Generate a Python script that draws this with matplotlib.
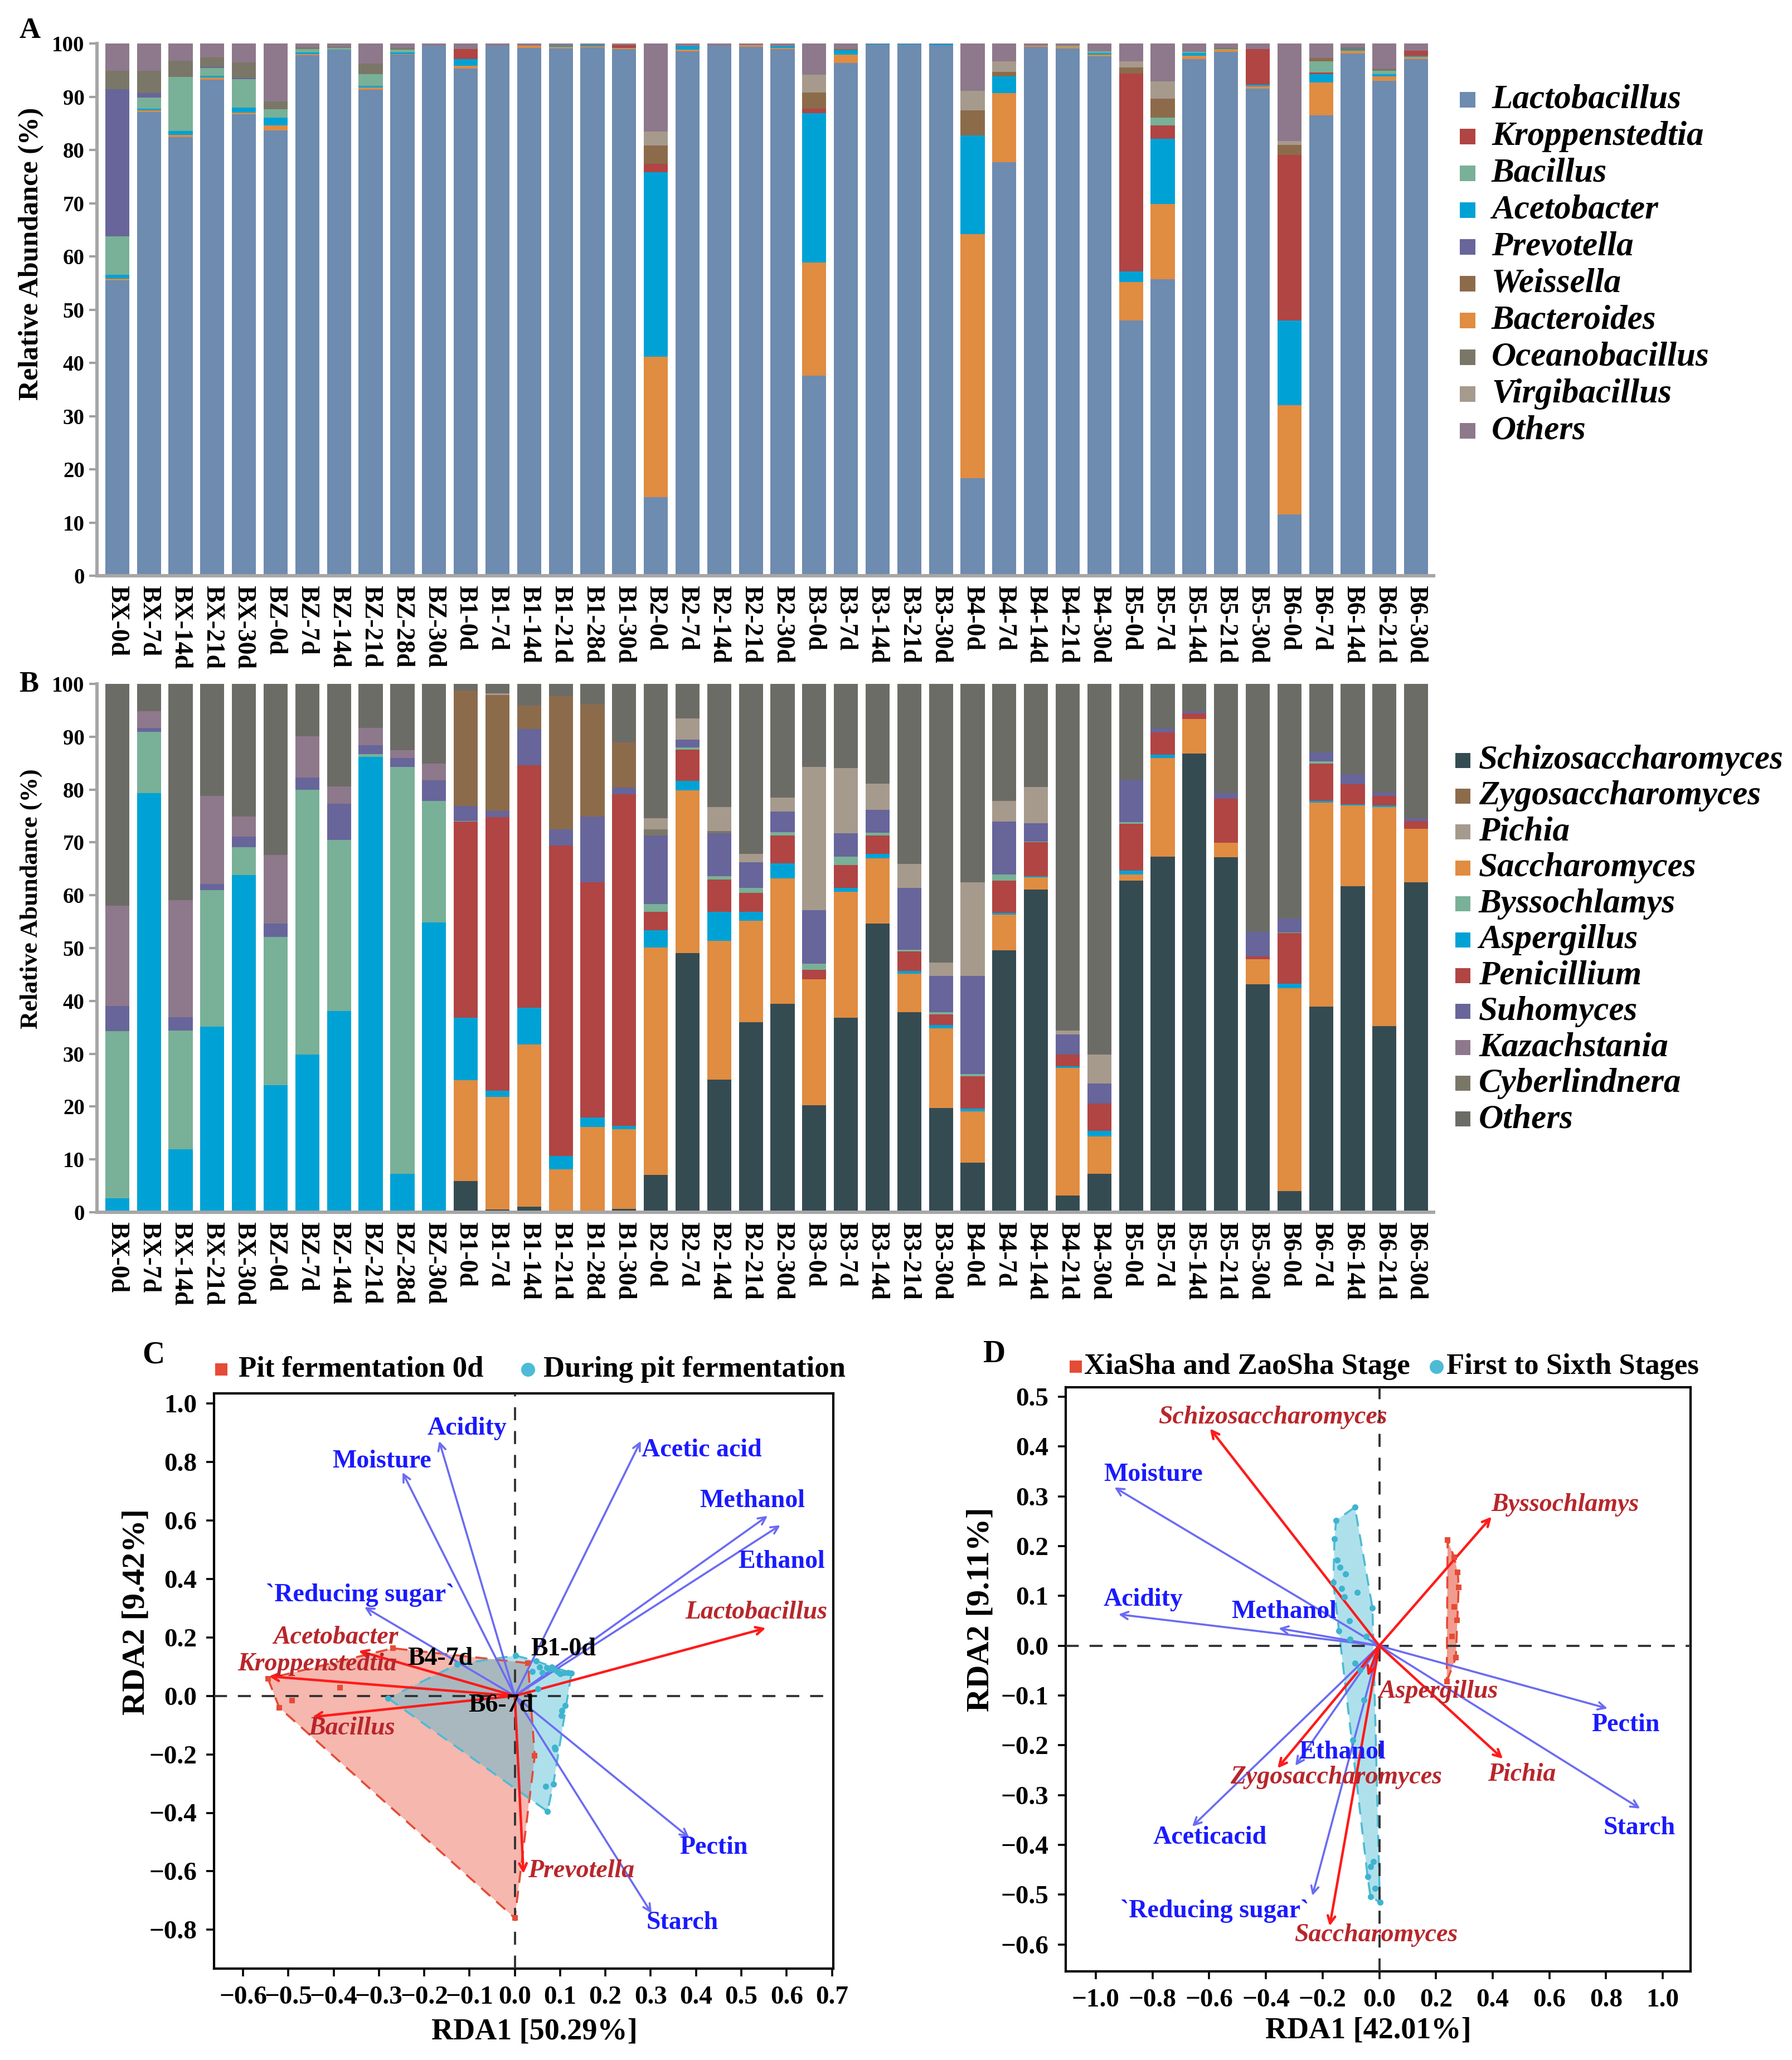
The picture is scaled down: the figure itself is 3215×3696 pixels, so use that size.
import matplotlib.lines
import matplotlib.patches
import matplotlib.pyplot as plt
import numpy as np

W, H = 3216, 3696
DPI = 200

samples = [
    "BX-0d", "BX-7d", "BX-14d", "BX-21d", "BX-30d",
    "BZ-0d", "BZ-7d", "BZ-14d", "BZ-21d", "BZ-28d", "BZ-30d",
    "B1-0d", "B1-7d", "B1-14d", "B1-21d", "B1-28d", "B1-30d",
    "B2-0d", "B2-7d", "B2-14d", "B2-21d", "B2-30d",
    "B3-0d", "B3-7d", "B3-14d", "B3-21d", "B3-30d",
    "B4-0d", "B4-7d", "B4-14d", "B4-21d", "B4-30d",
    "B5-0d", "B5-7d", "B5-14d", "B5-21d", "B5-30d",
    "B6-0d", "B6-7d", "B6-14d", "B6-21d", "B6-30d",
]

# ---- panel A: bacteria (%), one value per sample
lactobacillus = [55.5, 87.1, 82.4, 93.2, 86.7, 83.7, 97.8, 98.8, 91.3, 97.9, 99.6,
                 95.3, 99.6, 99.2, 99.1, 99.3, 99.0, 14.8, 98.5, 99.6, 99.4, 99.0,
                 37.6, 96.3, 99.8, 99.8, 99.7, 18.3, 77.7, 99.4, 99.1, 97.6,
                 48.0, 55.7, 97.1, 98.4, 91.5, 11.5, 86.5, 98.1, 93.0, 97.1]
bacteroides = [0.3, 0.3, 0.4, 0.4, 0.3, 0.9, 0.2, 0.0, 0.4, 0.1, 0.0,
               0.5, 0.0, 0.4, 0.3, 0.2, 0.2, 26.3, 0.4, 0.0, 0.3, 0.2,
               21.2, 1.6, 0.0, 0.0, 0.0, 45.9, 13.0, 0.2, 0.3, 0.3,
               7.2, 14.1, 0.6, 0.4, 0.4, 20.5, 6.2, 0.5, 0.8, 0.4]
acetobacter = [0.7, 0.4, 0.8, 0.3, 1.0, 1.5, 0.3, 0.1, 0.3, 0.3, 0.0,
               1.3, 0.0, 0.0, 0.2, 0.2, 0.0, 34.7, 0.6, 0.0, 0.0, 0.3,
               28.1, 0.8, 0.1, 0.1, 0.2, 18.5, 3.1, 0.0, 0.0, 0.3,
               2.0, 12.3, 0.5, 0.0, 0.4, 16.0, 1.5, 0.3, 0.4, 0.2]
kroppenstedtia = [0, 0, 0, 0, 0, 0, 0, 0, 0, 0, 0,
                  1.9, 0, 0, 0, 0, 0.5, 1.6, 0, 0, 0, 0,
                  0.8, 0, 0, 0, 0, 0, 0, 0, 0, 0,
                  37.1, 2.5, 0, 0, 6.7, 31.1, 0.4, 0, 0, 0.9]
bacillus = [7.3, 2.0, 10.1, 1.5, 5.3, 1.5, 0.7, 0.3, 2.2, 0.6, 0,
            0, 0, 0, 0, 0, 0, 0, 0, 0, 0, 0,
            0, 0, 0, 0, 0, 0, 0, 0, 0.2, 0.3,
            0, 1.5, 0.2, 0.2, 0, 0, 2.1, 0, 0.7, 0]
prevotella = [27.6, 0.9, 0, 0.2, 0.2, 0, 0, 0, 0, 0, 0,
              0, 0, 0, 0, 0, 0, 0, 0, 0, 0, 0,
              0, 0, 0, 0, 0, 0, 0, 0, 0, 0,
              0, 0, 0, 0, 0, 0, 0, 0, 0, 0]
weissella = [0, 0, 0, 0, 0, 0, 0, 0, 0, 0, 0,
             0, 0, 0, 0, 0, 0, 3.4, 0, 0, 0, 0,
             3.1, 0.3, 0, 0, 0, 4.7, 0.9, 0, 0, 0,
             1.2, 3.5, 0, 0, 0, 1.8, 0.6, 0, 0, 0]
oceanobacillus = [3.5, 4.2, 3.1, 1.8, 2.9, 1.5, 0.3, 0.2, 2.0, 0.3, 0,
                  0, 0, 0, 0, 0, 0, 0, 0, 0, 0, 0,
                  0, 0, 0, 0, 0, 0, 0, 0, 0, 0,
                  0, 0, 0, 0.2, 0, 0, 0, 0.4, 0.4, 0]
virgibacillus = [0, 0, 0, 0, 0, 0, 0, 0, 0, 0, 0,
                 0, 0, 0, 0, 0, 0, 2.7, 0, 0, 0, 0,
                 3.3, 0, 0, 0, 0, 3.7, 2.0, 0, 0, 0,
                 1.2, 3.3, 0, 0, 0, 0.8, 0, 0, 0, 0]
others_a = [5.1, 5.1, 3.2, 2.6, 3.6, 10.9, 0.7, 0.6, 3.8, 0.8, 0.4,
            1.0, 0.4, 0.4, 0.4, 0.3, 0.3, 16.5, 0.5, 0.4, 0.3, 0.5,
            5.9, 1.0, 0.1, 0.1, 0.1, 8.9, 3.3, 0.4, 0.4, 1.5,
            3.3, 7.1, 1.6, 0.8, 1.0, 18.3, 2.7, 0.7, 4.7, 1.4]

# ---- panel B: fungi (%)
schizosaccharomyces = [0, 0, 0, 0, 0, 0, 0, 0, 0, 0, 0,
                       5.9, 0.5, 1.1, 0.3, 0.3, 0.6, 7.1, 49.0, 25.1, 36.0, 39.5,
                       20.3, 36.8, 54.6, 37.9, 19.7, 9.4, 49.6, 61.1, 3.2, 7.3,
                       62.8, 67.3, 86.8, 67.2, 43.1, 4.0, 38.9, 61.75, 35.2, 62.4]
saccharomyces = [0, 0, 0, 0, 0, 0, 0, 0, 0, 0, 0,
                 19.1, 21.3, 30.6, 7.8, 15.8, 15.1, 43.0, 30.8, 26.3, 19.2, 23.7,
                 23.8, 23.9, 12.4, 7.3, 15.1, 9.7, 6.7, 2.3, 24.1, 7.0,
                 1.1, 18.7, 6.6, 2.7, 4.8, 38.4, 38.6, 15.25, 41.5, 10.2]
aspergillus = [2.6, 79.3, 11.9, 35.1, 63.8, 24.1, 29.9, 38.1, 86.2, 7.3, 54.9,
               11.8, 1.2, 7.0, 2.6, 1.8, 0.7, 3.3, 1.8, 5.5, 1.7, 2.8,
               0, 0.7, 0.8, 0.5, 0.65, 0.5, 0.3, 0.2, 0.3, 1.1,
               0.8, 0.6, 0, 0, 0, 0.8, 0.3, 0.2, 0.3, 0]
penicillium = [0, 0, 0, 0, 0, 0, 0, 0, 0, 0, 0,
               37.1, 51.8, 45.9, 58.7, 44.5, 62.7, 3.5, 6.0, 6.1, 3.5, 5.3,
               1.8, 4.3, 3.5, 3.7, 1.95, 6.1, 6.2, 6.4, 2.2, 5.2,
               8.8, 4.2, 1.0, 8.4, 0.5, 9.6, 7.1, 3.8, 1.8, 1.4]
byssochlamys = [31.7, 11.6, 22.5, 25.9, 5.3, 28.0, 50.1, 32.4, 0.5, 77.0, 23.0,
                0.2, 0, 0, 0, 0, 0, 1.4, 0.4, 0.6, 1.0, 0.6,
                1.1, 1.6, 0.5, 0.3, 0.5, 0.5, 1.1, 0.2, 0, 0,
                0.3, 0, 0, 0, 0, 0.2, 0.4, 0, 0, 0]
suhomyces = [4.7, 0.8, 2.5, 1.1, 2.0, 2.5, 2.3, 6.8, 1.7, 1.7, 3.9,
             2.8, 1.2, 6.9, 3.1, 12.5, 1.3, 13.0, 1.5, 8.1, 4.85, 3.9,
             10.2, 4.4, 4.4, 11.7, 6.8, 18.5, 10.0, 3.4, 3.8, 3.8,
             8.1, 0.8, 0.4, 1.0, 4.7, 2.6, 1.7, 1.9, 0.6, 0.6]
kazachstania = [19.0, 3.1, 22.2, 16.7, 3.8, 13.0, 7.8, 3.3, 3.3, 1.4, 3.1,
                0, 0, 0, 0, 0, 0, 0, 0, 0, 0, 0,
                0, 0, 0, 0, 0, 0, 0, 0, 0, 0,
                0, 0, 0, 0, 0, 0, 0, 0, 0, 0]
cyberlindnera = [0, 0, 0, 0, 0, 0, 0, 0, 0, 0, 0,
                 0, 0, 0, 0, 0, 0, 1.2, 0, 0.5, 0, 0,
                 0, 0, 0, 0, 0, 0, 0, 0, 0, 0,
                 0, 0, 0, 0, 0, 0, 0, 0, 0, 0]
zygosaccharomyces = [0, 0, 0, 0, 0, 0, 0, 0, 0, 0, 0,
                     21.8, 21.9, 4.4, 25.2, 21.2, 8.5, 0, 0, 0, 0, 0,
                     0, 0, 0, 0, 0, 0, 0, 0, 0, 0,
                     0, 0, 0, 0, 0, 0, 0, 0, 0, 0]
pichia = [0, 0, 0, 0, 0, 0, 0, 0, 0, 0, 0,
          0, 0.3, 0, 0, 0, 0, 2.1, 4.0, 4.5, 1.55, 2.7,
          27.1, 12.4, 4.9, 4.5, 2.6, 17.7, 4.0, 6.9, 0.8, 5.4,
          0, 0, 0, 0, 0, 0, 0, 0, 0, 0]
others_b = [42.0, 5.2, 40.9, 21.2, 25.1, 32.4, 9.9, 19.4, 8.3, 12.6, 15.1,
            1.3, 1.8, 4.1, 2.3, 3.9, 11.1, 25.4, 6.5, 23.3, 32.2, 21.5,
            15.7, 15.9, 18.9, 34.1, 52.7, 37.6, 22.1, 19.5, 65.6, 70.2,
            18.1, 8.4, 5.2, 20.7, 46.9, 44.4, 13.0, 17.1, 20.6, 25.4]

# ---- panel C: RDA (bacteria)
env_c_names = ["Acidity", "Moisture", "Acetic acid", "Methanol", "Ethanol",
               "`Reducing sugar`", "Pectin", "Starch"]
env_c_x = [-0.167, -0.248, 0.278, 0.558, 0.586, -0.332, 0.385, 0.302]
env_c_y = [0.872, 0.765, 0.872, 0.616, 0.584, 0.304, -0.485, -0.744]
sp_c_names = ["Lactobacillus", "Acetobacter", "Kroppenstedtia", "Bacillus", "Prevotella"]
sp_c_x = [0.554, -0.345, -0.543, -0.447, 0.019]
sp_c_y = [0.232, 0.154, 0.067, -0.072, -0.608]
pit0_c_x = [-0.545, -0.520, -0.492, -0.386, -0.269, 0.029, 0.044, 0.0]
pit0_c_y = [0.059, -0.040, -0.016, 0.029, 0.163, 0.112, -0.205, -0.760]
during_c_x = [0.002, 0.047, 0.055, 0.061, 0.070, 0.076, 0.082, 0.086, 0.094, 0.100,
              0.109, 0.117, 0.125, 0.039, 0.051, 0.111, 0.104, 0.102, 0.088, 0.089,
              0.068, 0.085, 0.072, -0.280, -0.127]
during_c_y = [0.138, 0.119, 0.099, 0.080, 0.096, 0.092, 0.099, 0.092, 0.083, 0.076,
              0.080, 0.080, 0.078, 0.083, 0.025, -0.032, -0.051, -0.067, -0.175, -0.182,
              -0.309, -0.301, -0.395, -0.008, 0.108]
tag_c_names = ["B4-7d", "B1-0d", "B6-7d"]

# ---- panel D: RDA (fungi)
env_d_names = ["Moisture", "Acidity", "Methanol", "Pectin", "Starch", "Ethanol",
               "Aceticacid", "`Reducing sugar`"]
env_d_x = [-0.934, -0.920, -0.355, 0.805, 0.920, -0.296, -0.660, -0.236]
env_d_y = [0.318, 0.063, 0.035, -0.126, -0.327, -0.241, -0.363, -0.502]
sp_d_names = ["Schizosaccharomyces", "Byssochlamys", "Aspergillus", "Pichia",
              "Zygosaccharomyces", "Saccharomyces"]
sp_d_x = [-0.597, 0.396, -0.041, 0.436, -0.359, -0.175]
sp_d_y = [0.436, 0.259, -0.061, -0.227, -0.246, -0.563]
early_d_x = [0.241, 0.264, 0.277, 0.280, 0.264, 0.274, 0.257, 0.270, 0.238]
early_d_y = [0.212, 0.178, 0.147, 0.117, 0.078, 0.051, 0.019, -0.024, -0.072]
stages_d_x = [-0.086, -0.152, -0.158, -0.149, -0.139, -0.119, -0.162, -0.132, -0.122,
              -0.077, -0.024, -0.106, -0.142, -0.103, -0.047, -0.086, -0.067, -0.054,
              -0.093, -0.021, -0.031, -0.041, -0.014, -0.031, 0.002]
stages_d_y = [0.278, 0.252, 0.215, 0.172, 0.158, 0.144, 0.127, 0.115, 0.098,
              0.107, 0.076, 0.050, 0.030, 0.013, 0.019, -0.035, -0.049, -0.109,
              -0.189, -0.433, -0.444, -0.464, -0.487, -0.504, -0.515]

plt.rcParams.update({
    "font.family": "Liberation Serif",
    "font.weight": "bold",
    "axes.labelweight": "bold",
})

BACT_COLORS = {
    "Lactobacillus": "#6e8bb0", "Kroppenstedtia": "#b04543", "Bacillus": "#79b098",
    "Acetobacter": "#00a2d5", "Prevotella": "#67659a", "Weissella": "#8c6b4b",
    "Bacteroides": "#e08c41", "Oceanobacillus": "#7b7768", "Virgibacillus": "#a69a8d",
    "Others": "#8e788b",
}
FUNGI_COLORS = {
    "Schizosaccharomyces": "#354b52", "Zygosaccharomyces": "#8c6b4b",
    "Pichia": "#a69a8d", "Saccharomyces": "#e08c41", "Byssochlamys": "#79b098",
    "Aspergillus": "#00a2d5", "Penicillium": "#b04543", "Suhomyces": "#67659a",
    "Kazachstania": "#8e788b", "Cyberlindnera": "#7b7766", "Others": "#6c6c66",
}
NPG_RED = "#E64B35"
NPG_CYAN = "#4DBBD5"
ENV_ARROW = "#6b6bf2"
ENV_TEXT = "#1a1aff"
SP_ARROW = "#ff1a1a"
SP_TEXT = "#b8262b"


def fx(px):
    return px / W


def fy(py):
    return 1 - py / H


def stacked_bars(ax, layers, colors):
    x = np.arange(len(samples))
    bottom = np.zeros(len(samples))
    for vals, col in zip(layers, colors):
        vals = np.asarray(vals, dtype=float)
        ax.bar(x, vals, bottom=bottom, width=0.76, color=col, linewidth=0)
        bottom += vals
    ax.set_xlim(-0.64, len(samples) - 0.45)
    ax.set_ylim(0, 100)
    ax.set_yticks(np.arange(0, 101, 10))
    ax.set_xticks(x)
    ax.set_xticklabels(samples, rotation=270, fontsize=16.5, va="top", ha="center")
    ax.tick_params(axis="x", length=0, pad=6)
    ax.tick_params(axis="y", length=5, width=1.5, color="#a0a0a0", labelsize=14, pad=3)
    for s in ["top", "right"]:
        ax.spines[s].set_visible(False)
    for s in ["left", "bottom"]:
        ax.spines[s].set_color("#a6a6a6")
        ax.spines[s].set_linewidth(2.2)


def side_legend(fig, names, colors, x_sq, y0, dy, size, x_txt):
    for i, (name, col) in enumerate(zip(names, colors)):
        yc = y0 + i * dy
        fig.add_artist(matplotlib.patches.Rectangle(
            (fx(x_sq), fy(yc + size / 2)), size / W, size / H,
            transform=fig.transFigure, color=col, linewidth=0))
        fig.text(fx(x_txt), fy(yc), name, fontsize=22, fontstyle="italic",
                 fontweight="bold", va="center", ha="left")


def convex_hull(xs, ys):
    pts = sorted(set(zip(xs, ys)))

    def cross(o, a, b):
        return (a[0] - o[0]) * (b[1] - o[1]) - (a[1] - o[1]) * (b[0] - o[0])

    lower, upper = [], []
    for p in pts:
        while len(lower) >= 2 and cross(lower[-2], lower[-1], p) <= 0:
            lower.pop()
        lower.append(p)
    for p in reversed(pts):
        while len(upper) >= 2 and cross(upper[-2], upper[-1], p) <= 0:
            upper.pop()
        upper.append(p)
    return np.array(lower[:-1] + upper[:-1])


def draw_group(ax, xs, ys, color, alpha):
    h = convex_hull(xs, ys)
    ax.add_patch(matplotlib.patches.Polygon(h, closed=True, facecolor=color,
                                            alpha=alpha, edgecolor="none", zorder=1))
    hc = np.vstack([h, h[:1]])
    ax.plot(hc[:, 0], hc[:, 1], ls=(0, (6, 4)), color=color, lw=1.3, zorder=2)


def draw_arrows(ax, xs, ys, color, lw=1.3):
    for x, y in zip(xs, ys):
        ax.annotate("", xy=(x, y), xytext=(0, 0),
                    arrowprops=dict(arrowstyle="->", color=color, lw=lw,
                                    shrinkA=0, shrinkB=0, mutation_scale=12),
                    zorder=4)


def fmt(v):
    s = f"{v:.1f}"
    if s == "-0.0":
        s = "0.0"
    return s.replace("-", "\u2212")


def rda_axes(ax, xlim, ylim, xticks, yticks):
    ax.set_xlim(*xlim)
    ax.set_ylim(*ylim)
    ax.set_xticks(xticks)
    ax.set_xticklabels([fmt(v) for v in xticks])
    ax.set_yticks(yticks)
    ax.set_yticklabels([fmt(v) for v in yticks])
    ax.tick_params(labelsize=17, length=5, width=1.3, pad=6)
    for s in ax.spines.values():
        s.set_linewidth(1.5)
    ax.axhline(0, color="#333333", ls=(0, (6, 5)), lw=1.4, zorder=3)
    ax.axvline(0, color="#333333", ls=(0, (6, 5)), lw=1.4, zorder=3)


def top_legend(fig, items, y):
    for kind, color, x_mk, x_txt, label in items:
        if kind == "s":
            fig.add_artist(matplotlib.patches.Rectangle(
                (fx(x_mk - 11), fy(y + 11)), 22 / W, 22 / H,
                transform=fig.transFigure, color=color, linewidth=0))
        else:
            fig.add_artist(matplotlib.lines.Line2D(
                [fx(x_mk)], [fy(y)], marker="o", markersize=8, color=color,
                transform=fig.transFigure))
        fig.text(fx(x_txt), fy(y), label, fontsize=19, va="center", ha="left")


def main():
    fig = plt.figure(figsize=(W / DPI, H / DPI), dpi=DPI)

    # ---------------- A
    axA = fig.add_axes([fx(174), fy(1033), (2572 - 174) / W, (1033 - 78) / H])
    bact_layers = [lactobacillus, bacteroides, acetobacter, kroppenstedtia, bacillus,
                   prevotella, weissella, oceanobacillus, virgibacillus, others_a]
    bact_stack = ["Lactobacillus", "Bacteroides", "Acetobacter", "Kroppenstedtia",
                  "Bacillus", "Prevotella", "Weissella", "Oceanobacillus",
                  "Virgibacillus", "Others"]
    stacked_bars(axA, bact_layers, [BACT_COLORS[n] for n in bact_stack])
    bact_legend = ["Lactobacillus", "Kroppenstedtia", "Bacillus", "Acetobacter",
                   "Prevotella", "Weissella", "Bacteroides", "Oceanobacillus",
                   "Virgibacillus", "Others"]
    side_legend(fig, bact_legend, [BACT_COLORS[n] for n in bact_legend],
                2619, 179, 66, 28, 2676)
    fig.text(fx(56), fy(455), "Relative Abundance (%)", rotation=90, fontsize=18,
             ha="center", va="center")
    fig.text(fx(54), fy(55), "A", fontsize=19, ha="center", va="center")

    # ---------------- B
    axB = fig.add_axes([fx(174), fy(2175), (2572 - 174) / W, (2175 - 1227) / H])
    fungi_layers = [schizosaccharomyces, saccharomyces, aspergillus, penicillium,
                    byssochlamys, suhomyces, kazachstania, cyberlindnera,
                    zygosaccharomyces, pichia, others_b]
    fungi_stack = ["Schizosaccharomyces", "Saccharomyces", "Aspergillus", "Penicillium",
                   "Byssochlamys", "Suhomyces", "Kazachstania", "Cyberlindnera",
                   "Zygosaccharomyces", "Pichia", "Others"]
    stacked_bars(axB, fungi_layers, [FUNGI_COLORS[n] for n in fungi_stack])
    fungi_legend = ["Schizosaccharomyces", "Zygosaccharomyces", "Pichia", "Saccharomyces",
                    "Byssochlamys", "Aspergillus", "Penicillium", "Suhomyces",
                    "Kazachstania", "Cyberlindnera", "Others"]
    side_legend(fig, fungi_legend, [FUNGI_COLORS[n] for n in fungi_legend],
                2611, 1364, 64.4, 27, 2653)
    fig.text(fx(56), fy(1613), "Relative Abundance (%)", rotation=90, fontsize=16,
             ha="center", va="center")
    fig.text(fx(52), fy(1228), "B", fontsize=19, ha="center", va="center")

    # ---------------- C
    axC = fig.add_axes([fx(384), fy(3532), (1495 - 384) / W, (3532 - 2500) / H])
    rda_axes(axC, (-0.664, 0.703), (-0.933, 1.035),
             np.round(np.arange(-0.6, 0.71, 0.1), 1), np.round(np.arange(-0.8, 1.01, 0.2), 1))
    draw_group(axC, pit0_c_x, pit0_c_y, NPG_RED, 0.4)
    draw_group(axC, during_c_x, during_c_y, NPG_CYAN, 0.45)
    draw_arrows(axC, env_c_x, env_c_y, ENV_ARROW)
    draw_arrows(axC, sp_c_x, sp_c_y, SP_ARROW, lw=1.6)
    axC.scatter(pit0_c_x, pit0_c_y, marker="s", s=12, color=NPG_RED, zorder=5, linewidths=0)
    axC.scatter(during_c_x, during_c_y, marker="o", s=16, color="#3fb3cf", zorder=5, linewidths=0)
    env_c_lbl = [(-0.105, 0.915), (-0.294, 0.803), (0.412, 0.84), (0.524, 0.667),
                 (0.589, 0.459), (-0.342, 0.344), (0.439, -0.52), (0.37, -0.776)]
    for name, (lx, ly) in zip(env_c_names, env_c_lbl):
        axC.text(lx, ly, name, color=ENV_TEXT, fontsize=16.5, ha="center", va="center", zorder=6)
    sp_c_lbl = [(0.533, 0.285), (-0.395, 0.2), (-0.436, 0.109), (-0.36, -0.112), (0.147, -0.6)]
    for name, (lx, ly) in zip(sp_c_names, sp_c_lbl):
        axC.text(lx, ly, name, color=SP_TEXT, fontsize=16.5, fontstyle="italic",
                 ha="center", va="center", zorder=6)
    tag_c_lbl = [(-0.165, 0.128), (0.107, 0.16), (-0.031, -0.032)]
    for name, (lx, ly) in zip(tag_c_names, tag_c_lbl):
        axC.text(lx, ly, name, color="black", fontsize=16.5, ha="center", va="center", zorder=6)
    fig.text(fx(245), fy(2892), "RDA2 [9.42%]", rotation=90, fontsize=21, ha="center", va="center")
    fig.text(fx(959), fy(3646), "RDA1 [50.29%]", fontsize=19.5, ha="center", va="center")
    fig.text(fx(275), fy(2432), "C", fontsize=20, ha="center", va="center")
    top_legend(fig, [("s", NPG_RED, 397, 428, "Pit fermentation 0d"),
                     ("o", NPG_CYAN, 947, 975, "During pit fermentation")], 2457)

    # ---------------- D
    axD = fig.add_axes([fx(1912), fy(3537), (3033 - 1912) / W, (3537 - 2489) / H])
    rda_axes(axD, (-1.106, 1.098), (-0.654, 0.519),
             np.round(np.arange(-1.0, 1.01, 0.2), 1), np.round(np.arange(-0.6, 0.51, 0.1), 1))
    draw_group(axD, early_d_x, early_d_y, NPG_RED, 0.55)
    draw_group(axD, stages_d_x, stages_d_y, NPG_CYAN, 0.45)
    draw_arrows(axD, env_d_x, env_d_y, ENV_ARROW)
    draw_arrows(axD, sp_d_x, sp_d_y, SP_ARROW, lw=1.6)
    axD.scatter(early_d_x, early_d_y, marker="s", s=12, color=NPG_RED, zorder=5, linewidths=0)
    axD.scatter(stages_d_x, stages_d_y, marker="o", s=16, color="#3fb3cf", zorder=5, linewidths=0)
    env_d_lbl = [(-0.797, 0.343), (-0.832, 0.092), (-0.336, 0.068), (0.868, -0.159),
                 (0.917, -0.366), (-0.13, -0.214), (-0.597, -0.385), (-0.58, -0.533)]
    for name, (lx, ly) in zip(env_d_names, env_d_lbl):
        axD.text(lx, ly, name, color=ENV_TEXT, fontsize=16.5, ha="center", va="center", zorder=6)
    sp_d_lbl = [(-0.375, 0.458), (0.656, 0.283), (0.208, -0.092), (0.502, -0.259),
                (-0.153, -0.265), (-0.012, -0.581)]
    for name, (lx, ly) in zip(sp_d_names, sp_d_lbl):
        axD.text(lx, ly, name, color=SP_TEXT, fontsize=16.5, fontstyle="italic",
                 ha="center", va="center", zorder=6)
    fig.text(fx(1760), fy(2888), "RDA2 [9.11%]", rotation=90, fontsize=21, ha="center", va="center")
    fig.text(fx(2455), fy(3643), "RDA1 [42.01%]", fontsize=19.5, ha="center", va="center")
    fig.text(fx(1783), fy(2430), "D", fontsize=20, ha="center", va="center")
    top_legend(fig, [("s", NPG_RED, 1930, 1945, "XiaSha and ZaoSha Stage"),
                     ("o", NPG_CYAN, 2577, 2595, "First to Sixth Stages")], 2452)

    fig.savefig("out.png", dpi=DPI, facecolor="white")


if __name__ == "__main__":
    main()
